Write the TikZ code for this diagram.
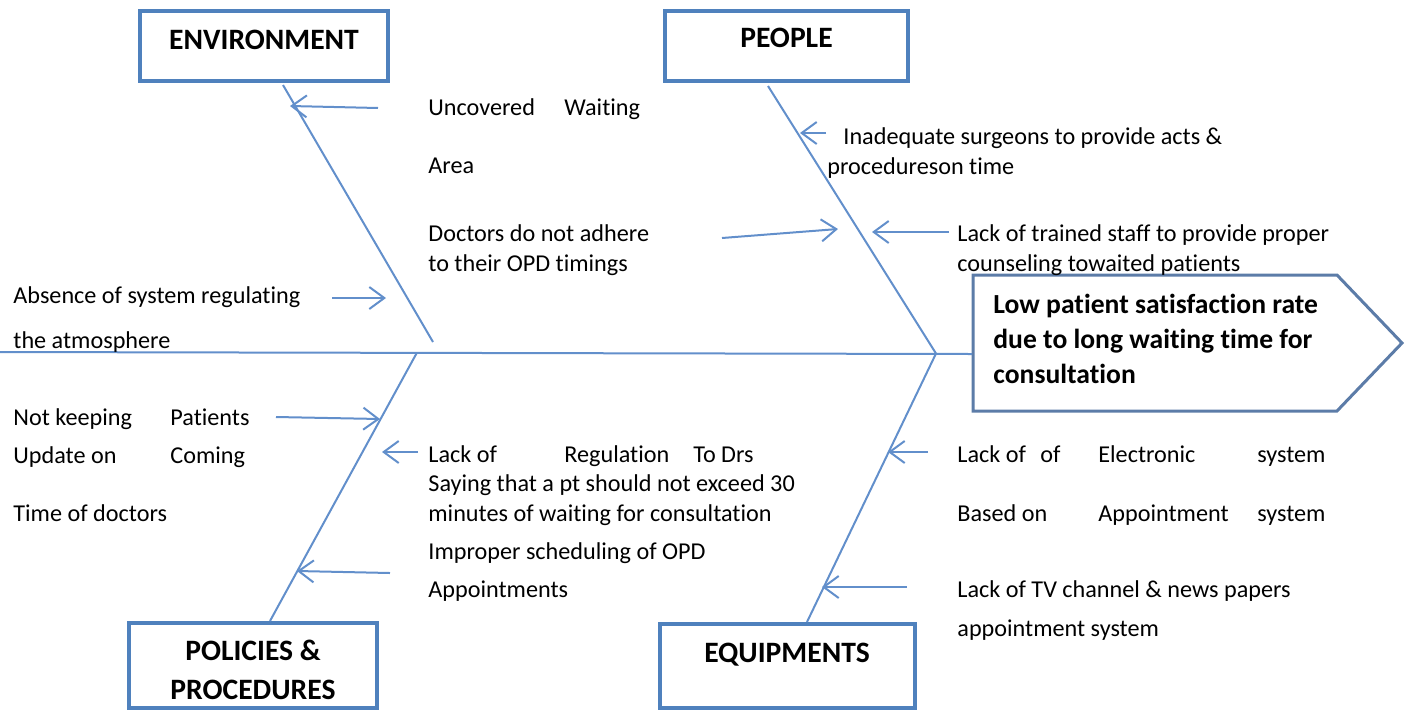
\documentclass[tikz,border=0pt]{standalone}
\usepackage{fontspec}
\setmainfont{Carlito}[Ligatures=NoCommon]
\usetikzlibrary{arrows.meta}
\definecolor{boxblue}{RGB}{79,129,189}
\definecolor{boneblue}{RGB}{98,143,203}
\definecolor{headedge}{RGB}{92,124,168}
\begin{document}
\begin{tikzpicture}[x=0.5pt,y=-0.5pt,
  catbox/.style={draw=boxblue,line width=2pt,fill=white,inner sep=0pt},
  cattext/.style={anchor=base,inner sep=0pt,font=\bfseries\fontsize{14.8}{17}\selectfont},
  headtext/.style={anchor=base west,inner sep=0pt,font=\bfseries\fontsize{13.8}{17}\selectfont},
  bone/.style={draw=boneblue,line width=1pt},
  cause/.style={draw=boneblue,line width=1pt,-{Straight Barb[length=7.5pt,width=11pt,line width=1pt]}},
  txt/.style={anchor=base west,inner sep=0pt,font=\fontsize{12.1}{15}\selectfont},
]
\useasboundingbox (0,0) rectangle (1408,713);

% category boxes
\node[catbox,minimum width=124pt,minimum height=35pt] (envbox) at (264,46) {};
\node[catbox,minimum width=121.5pt,minimum height=35pt] (peobox) at (786.5,46) {};
\node[catbox,minimum width=124pt,minimum height=42.5pt] (polbox) at (253,665.5) {};
\node[catbox,minimum width=127.5pt,minimum height=42pt] (eqbox) at (787.5,666) {};
\node[cattext] (envlbl) at (264,49) {ENVIRONMENT};
\node[cattext] (peolbl) at (786.5,47) {PEOPLE};
\node[cattext] (pollblA) at (253,660) {POLICIES \&};
\node[cattext] (pollblB) at (253,699) {PROCEDURES};
\node[cattext] (eqlbl) at (787,662) {EQUIPMENTS};

% effect (head)
\draw[headedge,line width=1.5pt,fill=white] (973,275) -- (1337,275) -- (1402,343) -- (1337,411) -- (973,411) -- cycle;
\node[headtext] (headA) at (993,313) {Low patient satisfaction rate};
\node[headtext] (headB) at (993,348) {due to long waiting time for};
\node[headtext] (headC) at (993,383) {consultation};

% spine and bones
\coordinate (tail) at (0,352);
\coordinate (headtail) at (972,354);
\coordinate (jl) at (417,352.5);
\coordinate (jr) at (936,353.5);
\coordinate (envtop) at (283,85);
\coordinate (envend) at (433,342);
\coordinate (peotop) at (768,86);
\coordinate (poltop) at (270,621);
\coordinate (eqtop) at (807,622);
\draw[bone] (tail) -- (headtail);
\draw[bone] (envtop) -- (envend);
\draw[bone] (peotop) -- (jr);
\draw[bone] (jl) -- (poltop);
\draw[bone] (jr) -- (eqtop);

% cause arrows
\coordinate (a1s) at (378,108);  \coordinate (a1e) at (290,106);
\coordinate (a2s) at (332,298);  \coordinate (a2e) at (386,298);
\coordinate (a3s) at (826,133);  \coordinate (a3e) at (800,133);
\coordinate (a4s) at (722,238);  \coordinate (a4e) at (838,229);
\coordinate (a5s) at (949,232);  \coordinate (a5e) at (872,232);
\coordinate (a6s) at (276,417);  \coordinate (a6e) at (380,419);
\coordinate (a7s) at (418,452);  \coordinate (a7e) at (382,452);
\coordinate (a8s) at (390,573);  \coordinate (a8e) at (297,571);
\coordinate (a9s) at (928,452);  \coordinate (a9e) at (888,452);
\coordinate (a10s) at (907,587); \coordinate (a10e) at (822,587);
\foreach \i in {1,...,10} \draw[cause] (a\i s) -- (a\i e);

% cause texts
\node[txt] (t1a) at (428,115) {\makebox[68pt][l]{Uncovered}Waiting};
\node[txt] (t1b) at (428,173) {Area};
\node[txt] (t2a) at (843,144) {Inadequate surgeons to provide acts \&};
\node[txt] (t2b) at (827,174) {procedureson time};
\node[txt] (t3a) at (428,241) {Doctors do not adhere};
\node[txt] (t3b) at (428,271) {to their OPD timings};
\node[txt] (t4a) at (957,241) {Lack of trained staff to provide proper};
\node[txt] (t4b) at (957,271) {counseling towaited patients};
\node[txt] (t5a) at (13,303) {Absence of system regulating};
\node[txt] (t5b) at (13,348) {the atmosphere};
\node[txt] (t6a) at (13,425) {\makebox[78.5pt][l]{Not keeping}Patients};
\node[txt] (t6b) at (13,463) {\makebox[78.5pt][l]{Update on}Coming};
\node[txt] (t6c) at (13,521) {Time of doctors};
\node[txt] (t7a) at (428,462) {\makebox[68pt][l]{Lack of}\makebox[64.5pt][l]{Regulation}To Drs};
\node[txt] (t7b) at (428,491) {Saying that a pt should not exceed 30};
\node[txt] (t7c) at (428,521) {minutes of waiting for consultation};
\node[txt] (t8a) at (428,559) {Improper scheduling of OPD};
\node[txt] (t8b) at (428,597) {Appointments};
\node[txt] (t9a) at (957,462) {\makebox[41.5pt][l]{Lack of}\makebox[29pt][l]{of}\makebox[79.5pt][l]{Electronic}system};
\node[txt] (t9b) at (957,521) {\makebox[70.5pt][l]{Based on}\makebox[79.5pt][l]{Appointment}system};
\node[txt] (t10a) at (957,597) {Lack of TV channel \& news papers};
\node[txt] (t10b) at (957,636) {appointment system};
\end{tikzpicture}
\end{document}
